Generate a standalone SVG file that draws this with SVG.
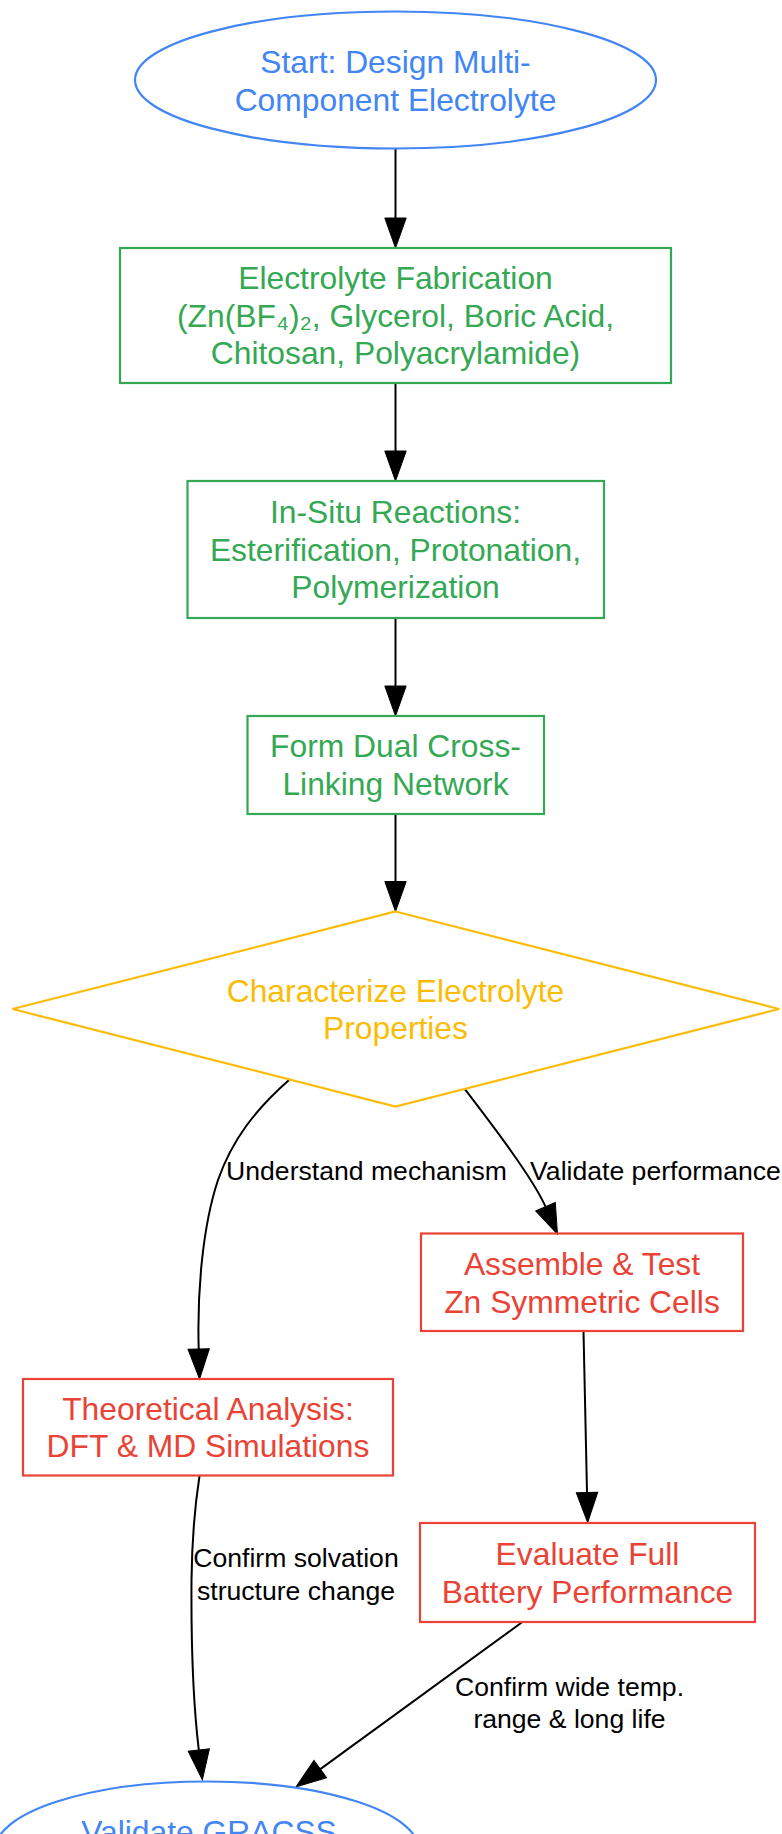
<svg xmlns="http://www.w3.org/2000/svg" width="782" height="1834" viewBox="0 0 782 1834">
<style>
  .node { fill: none; stroke-width: 2.2; }
  .blue { stroke: #4285F4; }
  .green { stroke: #34A853; }
  .yellow { stroke: #FBBC05; }
  .red { stroke: #EA4335; }
  .t { font-family: "Liberation Sans", Arial, "DejaVu Sans", sans-serif; font-size: 31.8px; text-anchor: middle; }
  .tb { fill: #4285F4; }
  .tg { fill: #34A853; }
  .ty { fill: #FBBC05; }
  .tr { fill: #EA4335; }
  .edge { fill: none; stroke: #000; stroke-width: 2; }
  .lbl { font-family: "Liberation Sans", Arial, sans-serif; font-size: 26.6px; text-anchor: middle; fill: #000; }
</style>
<defs>
  <marker id="ah" markerUnits="userSpaceOnUse" markerWidth="32" markerHeight="24" refX="0" refY="10.7" orient="auto" overflow="visible">
    <path d="M0,0 L30,10.7 L0,21.4 z" fill="#000" stroke="#000" stroke-width="1"/>
  </marker>
</defs>
<rect x="0" y="0" width="782" height="1834" fill="#fff"/>

<g id="connectors">
  <path class="edge" d="M395.5,148.5 L395.5,218" marker-end="url(#ah)"/>
  <path class="edge" d="M395.5,383 L395.5,451" marker-end="url(#ah)"/>
  <path class="edge" d="M395.5,618 L395.5,686" marker-end="url(#ah)"/>
  <path class="edge" d="M395.5,814 L395.5,881.5" marker-end="url(#ah)"/>
  <path class="edge" d="M289,1080 C255,1110 232,1140 218,1180 C203,1225 197,1290 198.7,1349" marker-end="url(#ah)"/>
  <path class="edge" d="M465,1089.3 C490,1122 533,1178 545.5,1206.7" marker-end="url(#ah)"/>
  <path class="edge" d="M583.5,1331 L587,1492.5" marker-end="url(#ah)"/>
  <path class="edge" d="M199.5,1476 C195,1505 192,1535 191.5,1580 C191,1650 194,1710 198.8,1750" marker-end="url(#ah)"/>
  <path class="edge" d="M521.7,1622.5 L320.3,1769.1" marker-end="url(#ah)"/>
  <text class="lbl" x="366.5" y="1180">Understand mechanism</text>
  <text class="lbl" x="655.5" y="1180">Validate performance</text>
  <text class="lbl" x="296" y="1567">Confirm solvation</text>
  <text class="lbl" x="296" y="1600">structure change</text>
  <text class="lbl" x="569.5" y="1696">Confirm wide temp.</text>
  <text class="lbl" x="569.5" y="1728">range &amp; long life</text>
</g>

<g id="start">
  <ellipse class="node blue" cx="395.5" cy="80" rx="260.5" ry="68.5"/>
  <text class="t tb" x="395.5" y="73">Start: Design Multi-</text>
  <text class="t tb" x="395.5" y="110.5">Component Electrolyte</text>
</g>

<g id="fabrication">
  <rect class="node green" x="120" y="248" width="551" height="135"/>
  <text class="t tg" x="395.5" y="289">Electrolyte Fabrication</text>
  <text class="t tg" x="395.5" y="326.5">(Zn(BF₄)₂, Glycerol, Boric Acid,</text>
  <text class="t tg" x="395.5" y="364">Chitosan, Polyacrylamide)</text>
</g>

<g id="reactions">
  <rect class="node green" x="187.5" y="481" width="416.5" height="137"/>
  <text class="t tg" x="395.5" y="523">In-Situ Reactions:</text>
  <text class="t tg" x="395.5" y="560.5">Esterification, Protonation,</text>
  <text class="t tg" x="395.5" y="598">Polymerization</text>
</g>

<g id="network">
  <rect class="node green" x="247.5" y="716" width="296.5" height="98"/>
  <text class="t tg" x="395.5" y="757">Form Dual Cross-</text>
  <text class="t tg" x="395.5" y="794.5">Linking Network</text>
</g>

<g id="characterize">
  <polygon class="node yellow" points="395.5,911.5 779,1009 395.5,1106.5 12.5,1009"/>
  <text class="t ty" x="395.5" y="1001.5">Characterize Electrolyte</text>
  <text class="t ty" x="395.5" y="1039">Properties</text>
</g>

<g id="assemble">
  <rect class="node red" x="421" y="1233.5" width="322" height="97.5"/>
  <text class="t tr" x="582" y="1275">Assemble &amp; Test</text>
  <text class="t tr" x="582" y="1312.5">Zn Symmetric Cells</text>
</g>

<g id="theoretical">
  <rect class="node red" x="23" y="1379" width="370" height="96.5"/>
  <text class="t tr" x="208" y="1419.5">Theoretical Analysis:</text>
  <text class="t tr" x="208" y="1457">DFT &amp; MD Simulations</text>
</g>

<g id="evaluate">
  <rect class="node red" x="420" y="1523" width="335" height="99"/>
  <text class="t tr" x="587.5" y="1565">Evaluate Full</text>
  <text class="t tr" x="587.5" y="1602.5">Battery Performance</text>
</g>

<g id="validate">
  <ellipse class="node blue" cx="207" cy="1850" rx="212" ry="68.5"/>
  <text class="t tb" x="209" y="1842.5">Validate GRACSS</text>
</g>
</svg>
